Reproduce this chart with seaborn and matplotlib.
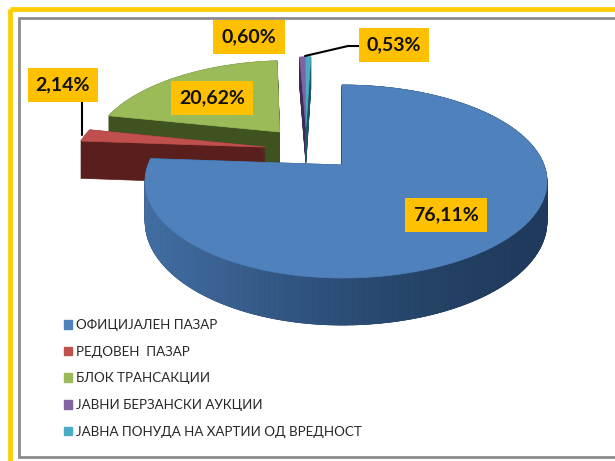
import numpy as np
import matplotlib
matplotlib.use("Agg")
import matplotlib.pyplot as plt
import seaborn as sns
from matplotlib.collections import PolyCollection
from matplotlib.patches import Patch, Polygon, Rectangle

# Chart data
categories = ["ОФИЦИЈАЛЕН ПАЗАР", "РЕДОВЕН  ПАЗАР", "БЛОК ТРАНСАКЦИИ",
              "ЈАВНИ БЕРЗАНСКИ АУКЦИИ", "ЈАВНА ПОНУДА НА ХАРТИИ ОД ВРЕДНОСТ"]
shares = [76.11, 2.14, 20.62, 0.60, 0.53]
share_labels = ["76,11%", "2,14%", "20,62%", "0,60%", "0,53%"]

# Styling
top_colors = ["#4f81bd", "#c0504d", "#9bbb59", "#8064a2", "#4bacc6"]
side_colors = ["#1f3a5c", "#5a1f1d", "#3f5320", "#3c2c55", "#1f5566"]
# slices were dragged out by hand, so each has its own offset (pie radius units)
slice_offsets = [(0, 0), (-0.41, 0.198), (-0.342, 0.375), (-0.2, 0.436), (-0.2, 0.436)]
label_pos = [(446, 215), (63, 85), (212, 98), (249, 37), (394, 45)]
GOLD = "#ffc000"

# Perspective of the tilted pie, in output pixels
CX, CY = 342, 165
SCALE_LEFT, SCALE_RIGHT, SCALE_Y, TILT = 194, 202, 93.7, 0.171
DEPTH = 39


def project(xy, offset):
    x = xy[:, 0] + offset[0]
    y = xy[:, 1] + offset[1]
    w = 1 + TILT * y
    scale_x = np.where(x < 0, SCALE_LEFT, SCALE_RIGHT)
    return np.column_stack([CX + scale_x * x / w, CY - SCALE_Y * y / w]), w


def draw_slice(ax, wedge, offset, top, side, zorder, shaded=False):
    theta = np.radians(np.linspace(wedge.theta1, wedge.theta2, 200))
    arc = np.column_stack([wedge.center[0] + wedge.r * np.cos(theta),
                           wedge.center[1] + wedge.r * np.sin(theta)])
    outline = np.vstack([wedge.center, arc])
    pts, w = project(outline, offset)
    drop = DEPTH / w

    # extruded body
    for k in np.linspace(1, 0, 40):
        body = pts + np.column_stack([np.zeros(len(pts)), drop * k])
        ax.add_patch(Polygon(body, closed=True, fc=side, ec=side, lw=0.5, zorder=zorder))

    # only the big slice has a rim that catches light on its left
    if shaded:
        rim_top = pts[1:]
        rim_low = rim_top + np.column_stack([np.zeros(len(rim_top)), drop[1:]])
        quads = [[rim_top[i], rim_top[i + 1], rim_low[i + 1], rim_low[i]]
                 for i in range(len(rim_top) - 1)]
        base = np.array(matplotlib.colors.to_rgb(side))
        light = np.array(matplotlib.colors.to_rgb(top))
        mix = np.clip((rim_top[:-1, 0] - 545) / -400, 0, 1) ** 1.5 * 0.75
        rim_colors = base + (light - base) * mix[:, None]
        ax.add_collection(PolyCollection(quads, facecolors=rim_colors, edgecolors=rim_colors,
                                         linewidths=0.4, zorder=zorder + 0.1))
    ax.add_patch(Polygon(pts, closed=True, fc=top, ec=top, lw=0.5, zorder=zorder + 0.2))


sns.set_theme(style="white")
plt.rcParams["font.family"] = ["Lato", "DejaVu Sans"]

fig = plt.figure(figsize=(6.15, 4.61), dpi=100)
ax = fig.add_axes([0, 0, 1, 1])

wedges, _ = ax.pie(shares, startangle=90, counterclock=False)
for w_ in wedges:
    w_.set_visible(False)
ax.set_aspect("auto")
ax.set_xlim(0, 615)
ax.set_ylim(461, 0)
ax.axis("off")

# Frames
ax.add_patch(Rectangle((10, 9.5), 640, 500, fc="none", ec="#ffcc00", lw=3.4, zorder=1))
ax.add_patch(Rectangle((18.5, 18.5), 640, 438.5, fc="white", ec="#8c8c8c", lw=2, zorder=2))

# Back to front: the small slices, green, red, then the large blue slice
for z, i in enumerate([3, 4, 2, 1, 0]):
    draw_slice(ax, wedges[i], slice_offsets[i], top_colors[i], side_colors[i], 3 + z, shaded=(i == 0))

# Leader lines
ax.plot([82, 82], [101, 135], color="black", lw=1.5, zorder=9)
ax.plot([360, 348, 305], [46, 46, 56], color="black", lw=1.5, zorder=9)

for text, (x, y) in zip(share_labels, label_pos):
    ax.text(x, y, text, ha="center", va="center", fontsize=14, fontweight="bold",
            color="#111111", zorder=10,
            bbox=dict(boxstyle="square,pad=0.42", fc=GOLD, ec=GOLD, lw=0))

handles = [Patch(fc=c, ec=c) for c in top_colors]
leg = ax.legend(handles, categories, loc="upper left", bbox_to_anchor=(64 / 615, 1 - 319 / 461),
                frameon=False, fontsize=9.6, labelspacing=1.1, handlelength=0.6, handleheight=0.6,
                handletextpad=0.3, borderpad=0, borderaxespad=0, labelcolor="#262626")
leg.set_zorder(10)

fig.savefig("out.png", dpi=100)
